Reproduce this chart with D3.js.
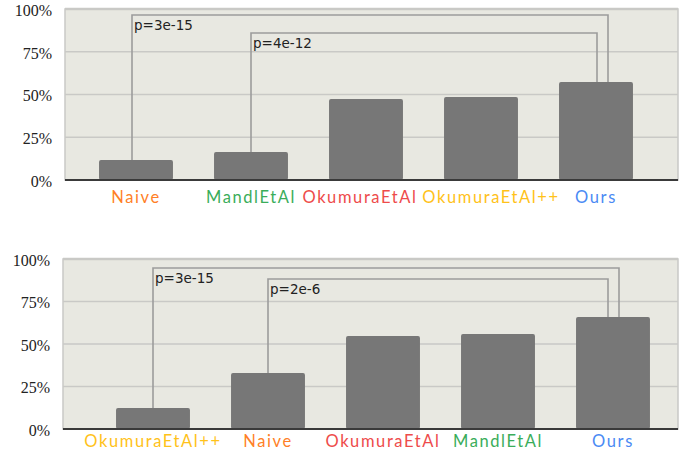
<!DOCTYPE html>
<html lang="en">
<head>
    <meta charset="UTF-8">
    <title>Comparison bars</title>
    <script src="https://d3js.org/d3.v7.min.js"></script>
    <style>
        body { margin: 0; background: #fff; }
    </style>
</head>
<body>
    <div id="chart"></div>

    <script>
        // top chart
        const topCategories = ["Naive", "MandlEtAl", "OkumuraEtAl", "OkumuraEtAl++", "Ours"];
        const topValues = [11.7, 16.4, 47.4, 48.5, 57.3];
        const topBrackets = [
            { from: "Naive", to: "Ours", p: "p=3e-15", level: 96.5 },
            { from: "MandlEtAl", to: "Ours", p: "p=4e-12", level: 86 }
        ];

        // bottom chart
        const bottomCategories = ["OkumuraEtAl++", "Naive", "OkumuraEtAl", "MandlEtAl", "Ours"];
        const bottomValues = [12.4, 32.9, 54.7, 55.9, 65.9];
        const bottomBrackets = [
            { from: "OkumuraEtAl++", to: "Ours", p: "p=3e-15", level: 94.7 },
            { from: "Naive", to: "Ours", p: "p=2e-6", level: 88.2 }
        ];

        const yTicks = [0, 25, 50, 75, 100];

        const labelColor = {
            "Naive": "#ff7f27",
            "MandlEtAl": "#3aad5a",
            "OkumuraEtAl": "#ee4b4b",
            "OkumuraEtAl++": "#ffc21a",
            "Ours": "#4a8af4"
        };

        const svg = d3.select("#chart")
            .append("svg")
            .attr("width", 688)
            .attr("height", 450);

        function drawChart(cfg, categories, values, brackets) {
            const g = svg.append("g");

            const x = d3.scaleBand()
                .domain(categories)
                .range([cfg.bandStart, cfg.bandStart + 575])
                .paddingInner(0.357)
                .paddingOuter(0.1785);
            const y = d3.scaleLinear().domain([0, 100]).range([cfg.bottom, cfg.top]);

            // background panel
            g.append("rect")
                .attr("x", cfg.left)
                .attr("y", cfg.top)
                .attr("width", cfg.right - cfg.left)
                .attr("height", cfg.bottom - cfg.top)
                .attr("fill", "#e8e8e1")
                .attr("stroke", "#c9c9c6")
                .attr("stroke-width", 1.5);
            g.append("line")
                .attr("x1", cfg.left).attr("x2", cfg.right)
                .attr("y1", cfg.top).attr("y2", cfg.top)
                .attr("stroke", "#c9c9c6").attr("stroke-width", 2.5);

            // gridlines
            g.selectAll(".grid")
                .data(yTicks.filter(t => t > 0 && t < 100))
                .enter().append("line")
                .attr("x1", cfg.left).attr("x2", cfg.right)
                .attr("y1", d => y(d)).attr("y2", d => y(d))
                .attr("stroke", "#c9c9c6")
                .attr("stroke-width", 1.6);

            // y axis labels
            const yAxis = d3.axisLeft(y)
                .tickValues(yTicks)
                .tickFormat(d => d + "%")
                .tickSize(0)
                .tickPadding(0);
            const ya = g.append("g")
                .attr("transform", `translate(${cfg.left - 13},0)`)
                .call(yAxis);
            ya.select(".domain").remove();
            ya.selectAll("text")
                .attr("font-family", "Liberation Serif")
                .attr("font-size", 16)
                .attr("fill", "#222")
                .attr("dy", "0.4em");

            // bars
            g.selectAll(".bar")
                .data(categories.map((c, i) => ({ c, v: values[i] })))
                .enter().append("rect")
                .attr("x", d => x(d.c))
                .attr("width", x.bandwidth())
                .attr("y", d => y(d.v))
                .attr("height", d => y(0) - y(d.v))
                .attr("rx", 2)
                .attr("fill", "#777777");

            // baseline
            g.append("line")
                .attr("x1", cfg.left).attr("x2", cfg.right)
                .attr("y1", y(0)).attr("y2", y(0))
                .attr("stroke", "#3a3a3a")
                .attr("stroke-width", 2);

            // significance brackets
            const valueOf = c => values[categories.indexOf(c)];
            brackets.forEach((b, i) => {
                const x1 = x(b.from) + x.bandwidth() / 2 + cfg.startOffsets[i];
                const x2 = x(b.to) + x.bandwidth() / 2 + cfg.endOffsets[i];
                const path = d3.path();
                path.moveTo(x1, y(valueOf(b.from)));
                path.lineTo(x1, y(b.level));
                path.lineTo(x2, y(b.level));
                path.lineTo(x2, y(valueOf(b.to)));
                g.append("path")
                    .attr("d", path.toString())
                    .attr("fill", "none")
                    .attr("stroke", "#9c9c9c")
                    .attr("stroke-width", 1.6);
                g.append("text")
                    .attr("x", x1 + 2)
                    .attr("y", y(b.level) + 15)
                    .style("font-family", "'DejaVu Sans', sans-serif")
                    .style("font-size", "13.5px")
                    .style("fill", "#222")
                    .text(b.p);
            });

            // category labels
            const xAxis = d3.axisBottom(x).tickSize(0).tickPadding(0);
            const xa = g.append("g")
                .attr("transform", `translate(0,${cfg.labelY})`)
                .call(xAxis);
            xa.select(".domain").remove();
            xa.selectAll("text")
                .attr("dy", 0)
                .attr("dx", (d, i) => cfg.labelOffsets[i])
                .style("font-family", "Lato, sans-serif")
                .style("font-size", "16.5px")
                .style("letter-spacing", "1.6px")
                .style("fill", d => labelColor[d]);
        }

        drawChart({ left: 65, right: 678, top: 9, bottom: 180, bandStart: 78.5, labelY: 203,
                    startOffsets: [-4, 0], endOffsets: [12, 1], labelOffsets: [0, 0, -6, 10, 0] },
                  topCategories, topValues, topBrackets);

        drawChart({ left: 63, right: 678, top: 259, bottom: 429, bandStart: 95.5, labelY: 447,
                    startOffsets: [0, 0], endOffsets: [6, -5], labelOffsets: [0, 0, 0, 0, 0] },
                  bottomCategories, bottomValues, bottomBrackets);
    </script>
</body>
</html>
